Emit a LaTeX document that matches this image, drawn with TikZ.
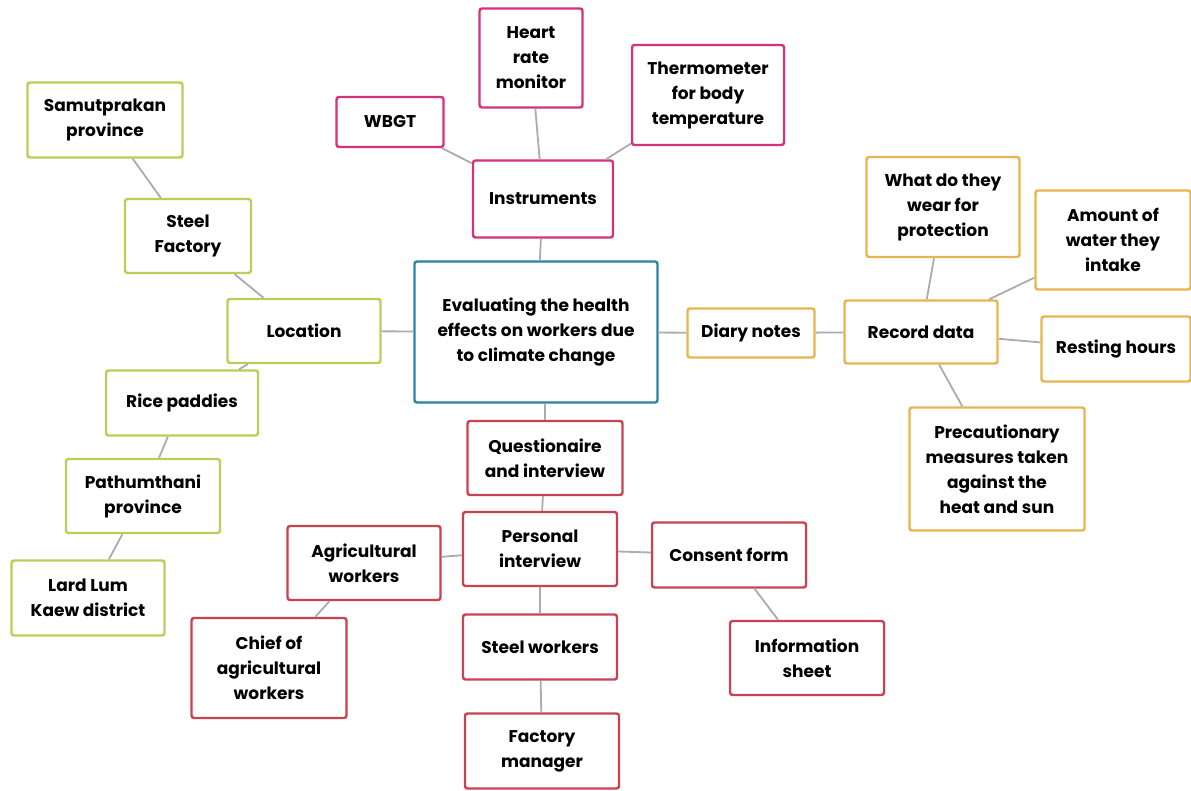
\documentclass[tikz,border=0pt]{standalone}
\usepackage{fontspec}
\setmainfont{Poppins}
\begin{document}
\begin{tikzpicture}[x=1pt,y=-1pt,
  bx/.style n args={3}{draw=#1, line width=2.4pt, rounded corners=2.5pt, fill=white,
     minimum width=#2, minimum height=#3, align=center, inner sep=2pt,
     font=\fontsize{17}{25}\selectfont\bfseries, text=black},
  gb/.style 2 args={bx={cgreen}{#1}{#2}},
  mb/.style 2 args={bx={cmag}{#1}{#2}},
  ob/.style 2 args={bx={corange}{#1}{#2}},
  rb/.style 2 args={bx={cred}{#1}{#2}},
  link/.style={draw=clink, line width=1.8pt}]
\definecolor{cgreen}{RGB}{186,206,90}
\definecolor{cmag}{RGB}{212,50,122}
\definecolor{cblue}{RGB}{44,130,166}
\definecolor{corange}{RGB}{232,180,80}
\definecolor{cred}{RGB}{200,66,82}
\definecolor{clink}{RGB}{172,172,176}
\useasboundingbox (0,0) rectangle (1191,791);
\fill[white] (0,0) rectangle (1191,791);
% centre
\node[bx={cblue}{243pt}{141pt}] (c) at (536,332) {Evaluating the health\\effects on workers due\\to climate change};
% green
\node[gb={155pt}{75pt}] (samut) at (105,120) {Samutprakan\\province};
\node[gb={126pt}{74pt}] (steelf) at (188,236) {Steel\\Factory};
\node[gb={153pt}{64pt}] (loc) at (304,331) {Location};
\node[gb={152pt}{65pt}] (rice) at (182,403) {Rice paddies};
\node[gb={154pt}{74pt}] (path) at (143,496) {Pathumthani\\province};
\node[gb={153pt}{75pt}] (lard) at (88,598) {Lard Lum\\Kaew district};
% magenta
\node[mb={107pt}{50pt}] (wbgt) at (390,122) {WBGT};
\node[mb={103pt}{99pt}] (heart) at (531,58) {Heart\\rate\\monitor};
\node[mb={152pt}{100pt}] (thermo) at (708,95) {Thermometer\\for body\\temperature};
\node[mb={140pt}{77pt}] (instr) at (543,199) {Instruments};
% orange
\node[ob={127pt}{49pt}] (diary) at (751,333) {Diary notes};
\node[ob={153pt}{63pt}] (rec) at (921,332) {Record data};
\node[ob={153pt}{100pt}] (wear) at (943,207) {What do they\\wear for\\protection};
\node[ob={155pt}{99pt}] (water) at (1113,240) {Amount of\\water they\\intake};
\node[ob={149pt}{65pt}] (rest) at (1116,349) {Resting hours};
\node[ob={175pt}{123pt}] (prec) at (997,469) {Precautionary\\measures taken\\against the\\heat and sun};
% red
\node[rb={155pt}{74pt}] (quest) at (545,458) {Questionaire\\and interview};
\node[rb={154pt}{74pt}] (pers) at (540,549) {Personal\\interview};
\node[rb={153pt}{74pt}] (agri) at (364,563) {Agricultural\\workers};
\node[rb={154pt}{65pt}] (cons) at (729,555) {Consent form};
\node[rb={155pt}{100pt}] (chief) at (269,668) {Chief of\\agricultural\\workers};
\node[rb={154pt}{65pt}] (steelw) at (540,647) {Steel workers};
\node[rb={154pt}{74pt}] (info) at (807,658) {Information\\sheet};
\node[rb={154pt}{75pt}] (fact) at (542,751) {Factory\\manager};
% links
\draw[link] (samut) -- (steelf);
\draw[link] (steelf) -- (loc);
\draw[link] (loc) -- (rice);
\draw[link] (rice) -- (path);
\draw[link] (path) -- (lard);
\draw[link] (loc) -- (c);
\draw[link] (c) -- (instr);
\draw[link] (wbgt) -- (instr);
\draw[link] (heart) -- (instr);
\draw[link] (thermo) -- (instr);
\draw[link] (c) -- (diary);
\draw[link] (diary) -- (rec);
\draw[link] (rec) -- (wear);
\draw[link] (rec) -- (water);
\draw[link] (rec) -- (rest);
\draw[link] (rec) -- (prec);
\draw[link] (c.south -| quest.north) -- (quest);
\draw[link] (quest) -- (pers);
\draw[link] (pers) -- (agri);
\draw[link] (pers) -- (cons);
\draw[link] (agri) -- (chief);
\draw[link] (pers) -- (steelw);
\draw[link] (steelw) -- (fact);
\draw[link] (cons) -- (info);
\end{tikzpicture}
\end{document}
